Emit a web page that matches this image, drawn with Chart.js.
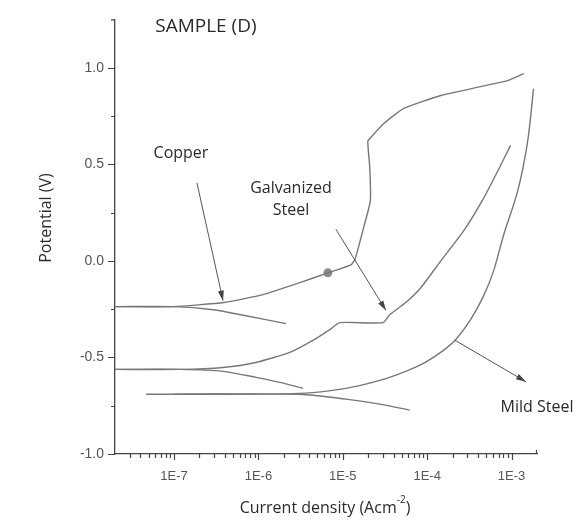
<!DOCTYPE html>
<html>
<head>
<meta charset="utf-8">
<script src="https://cdn.jsdelivr.net/npm/chart.js@4.4.1/dist/chart.umd.min.js"></script>
<style>
  html, body { margin: 0; padding: 0; background: #fff; }
  canvas { display: block; }
</style>
</head>
<body>
<canvas id="tafelChart" width="580" height="526"></canvas>
<script>
// current density (A/cm2) and potential (V)
const copperAnodicI = [2e-8, 9.75e-8, 3.91e-7, 1.13e-6, 3.10e-6, 6.66e-6, 1.25e-5, 1.40e-5, 1.80e-5, 2.12e-5, 2.09e-5, 1.98e-5, 2.20e-5, 3.06e-5, 5.28e-5, 1.45e-4, 4.30e-4, 8.97e-4, 1.39e-3];
const copperAnodicE = [-0.237, -0.237, -0.216, -0.175, -0.113, -0.062, -0.021, 0.010, 0.186, 0.309, 0.479, 0.619, 0.644, 0.711, 0.789, 0.856, 0.902, 0.933, 0.969];
const copperCathodicI = [2e-8, 9.75e-8, 2.90e-7, 7.11e-7, 2.12e-6];
const copperCathodicE = [-0.237, -0.237, -0.253, -0.284, -0.325];

const galvAnodicI = [2e-8, 1.18e-7, 3.80e-7, 9.35e-7, 2.36e-6, 4.42e-6, 7.03e-6, 9.23e-6, 2.98e-5, 3.61e-5, 5.57e-5, 8.4e-5, 1.45e-4, 2.70e-4, 4.67e-4, 6.84e-4, 9.73e-4];
const galvAnodicE = [-0.562, -0.562, -0.552, -0.526, -0.474, -0.412, -0.356, -0.320, -0.320, -0.278, -0.216, -0.139, 0.0, 0.155, 0.325, 0.464, 0.598];
const galvCathodicI = [2e-8, 1.18e-7, 3.80e-7, 9.35e-7, 1.80e-6, 3.37e-6];
const galvCathodicE = [-0.562, -0.562, -0.572, -0.603, -0.629, -0.660];

const mildAnodicI = [4.67e-8, 3.10e-6, 1.09e-5, 2.74e-5, 5.57e-5, 9.61e-5, 1.53e-4, 2.18e-4, 3.27e-4, 4.67e-4, 6.12e-4, 8.05e-4, 1.18e-3, 1.55e-3, 1.82e-3];
const mildAnodicE = [-0.691, -0.686, -0.660, -0.619, -0.572, -0.524, -0.466, -0.407, -0.304, -0.180, -0.052, 0.134, 0.361, 0.619, 0.892];
const mildCathodicI = [1e-7, 3.10e-6, 1.09e-5, 2.74e-5, 6.21e-5];
const mildCathodicE = [-0.690, -0.691, -0.716, -0.742, -0.773];

const markerI = [6.66e-6];
const markerE = [-0.062];

// annotations
const labelText = ['Copper', 'Galvanized', 'Steel', 'Mild Steel'];
const labelI = [1.21e-7, 2.43e-6, 2.43e-6, 2.0e-3];
const labelE = [0.558, 0.373, 0.261, -0.759];
const arrowFromI = [1.87e-7, 8.3e-6, 2.13e-4];
const arrowFromE = [0.404, 0.163, -0.411];
const arrowToI = [3.81e-7, 3.25e-5, 1.48e-3];
const arrowToE = [-0.206, -0.257, -0.626];
const titleText = 'SAMPLE (D)';
const titleI = 2.39e-7;
const titleE = 1.214;

// axes
const xMajorTicks = [1e-7, 1e-6, 1e-5, 1e-4, 1e-3];
const xTickLabels = ['1E-7', '1E-6', '1E-5', '1E-4', '1E-3'];
const yMajorTicks = [-1.0, -0.5, 0.0, 0.5, 1.0];
const yTickLabels = ['-1.0', '-0.5', '0.0', '0.5', '1.0'];
const yMinorTicks = [-0.75, -0.25, 0.25, 0.75];

const xMin = 2e-8, xMax = 2e-3, yMin = -1.0, yMax = 1.25;

function pts(xs, ys) {
    return xs.map((v, i) => ({ x: v, y: ys[i] }));
}

function curve(xs, ys, tension) {
    return {
        data: pts(xs, ys),
        showLine: true,
        borderColor: '#777',
        borderWidth: 1.4,
        pointRadius: 0,
        tension: tension,
        fill: false
    };
}

function drawArrow(ctx, x0, y0, x1, y1) {
    ctx.beginPath();
    ctx.moveTo(x0, y0);
    ctx.lineTo(x1, y1);
    ctx.stroke();
    const a = Math.atan2(y1 - y0, x1 - x0);
    const len = 10, half = 3;
    const c = Math.cos(a), s = Math.sin(a);
    ctx.beginPath();
    ctx.moveTo(x1, y1);
    ctx.lineTo(x1 - len * c + half * s, y1 - len * s - half * c);
    ctx.lineTo(x1 - len * c - half * s, y1 - len * s + half * c);
    ctx.closePath();
    ctx.fill();
}

const annotationPlugin = {
    id: 'annotations',
    afterDraw(chart) {
        const { ctx, chartArea } = chart;
        const x = chart.scales.x, y = chart.scales.y;
        ctx.save();

        // tick marks
        ctx.strokeStyle = '#444';
        ctx.lineWidth = 1.2;
        ctx.beginPath();
        for (let e = -8; e <= -3; e++) {
            for (let m = 1; m <= 9; m++) {
                const v = m * Math.pow(10, e);
                if (v <= xMin * 1.0001 || v >= xMax * 0.9999) continue;
                const px = Math.round(x.getPixelForValue(v)) + 0.5;
                const len = m === 1 ? 6 : 4;
                ctx.moveTo(px, chartArea.bottom);
                ctx.lineTo(px, chartArea.bottom + len);
            }
        }
        yMajorTicks.forEach(v => {
            const py = Math.round(y.getPixelForValue(v)) + 0.5;
            ctx.moveTo(chartArea.left, py);
            ctx.lineTo(chartArea.left - 7, py);
        });
        yMinorTicks.forEach(v => {
            const py = Math.round(y.getPixelForValue(v)) + 0.5;
            ctx.moveTo(chartArea.left, py);
            ctx.lineTo(chartArea.left - 4, py);
        });
        // axis end caps
        ctx.moveTo(chartArea.left, chartArea.top + 0.5);
        ctx.lineTo(chartArea.left - 4, chartArea.top + 0.5);
        ctx.moveTo(chartArea.right - 0.5, chartArea.bottom);
        ctx.lineTo(chartArea.right - 0.5, chartArea.bottom - 4);
        ctx.stroke();

        // arrows
        ctx.strokeStyle = '#555';
        ctx.fillStyle = '#444';
        ctx.lineWidth = 1;
        arrowFromI.forEach((v, i) => {
            drawArrow(ctx,
                x.getPixelForValue(v), y.getPixelForValue(arrowFromE[i]),
                x.getPixelForValue(arrowToI[i]), y.getPixelForValue(arrowToE[i]));
        });

        // labels
        ctx.fillStyle = '#2a2a2a';
        ctx.textAlign = 'center';
        ctx.textBaseline = 'middle';
        ctx.font = '16px "Open Sans", sans-serif';
        labelText.forEach((t, i) => {
            ctx.fillText(t, x.getPixelForValue(labelI[i]), y.getPixelForValue(labelE[i]));
        });
        ctx.font = '19px "Open Sans", sans-serif';
        ctx.fillText(titleText, x.getPixelForValue(titleI), y.getPixelForValue(titleE));

        // axis titles
        ctx.font = '16px "Open Sans", sans-serif';
        ctx.save();
        ctx.translate(46, 218);
        ctx.rotate(-Math.PI / 2);
        ctx.fillText('Potential (V)', 0, 0);
        ctx.restore();

        const main = 'Current density (Acm';
        const sup = '-2';
        const tail = ')';
        ctx.font = '16px "Open Sans", sans-serif';
        const wMain = ctx.measureText(main).width;
        const wTail = ctx.measureText(tail).width;
        ctx.font = '10px "Open Sans", sans-serif';
        const wSup = ctx.measureText(sup).width;
        let px = 325 - (wMain + wSup + wTail) / 2;
        ctx.textAlign = 'left';
        ctx.font = '16px "Open Sans", sans-serif';
        ctx.fillText(main, px, 508);
        px += wMain;
        ctx.font = '10px "Open Sans", sans-serif';
        ctx.fillText(sup, px, 500);
        px += wSup;
        ctx.font = '16px "Open Sans", sans-serif';
        ctx.fillText(tail, px, 508);

        ctx.restore();
    }
};

const ctx = document.getElementById('tafelChart').getContext('2d');
new Chart(ctx, {
    type: 'scatter',
    data: {
        datasets: [
            curve(copperAnodicI, copperAnodicE, 0.15),
            curve(copperCathodicI, copperCathodicE, 0.25),
            curve(galvAnodicI, galvAnodicE, 0.2),
            curve(galvCathodicI, galvCathodicE, 0.25),
            curve(mildAnodicI, mildAnodicE, 0.3),
            curve(mildCathodicI, mildCathodicE, 0.25),
            {
                data: pts(markerI, markerE),
                pointRadius: 4.5,
                pointBackgroundColor: '#8a8a8a',
                pointBorderWidth: 0,
                showLine: false
            }
        ]
    },
    options: {
        responsive: false,
        animation: false,
        layout: { padding: { left: 0, right: 43, top: 15, bottom: 0 } },
        plugins: {
            legend: { display: false },
            tooltip: { enabled: false }
        },
        scales: {
            x: {
                type: 'logarithmic',
                min: xMin,
                max: xMax,
                afterBuildTicks: scale => { scale.ticks = xMajorTicks.map(v => ({ value: v })); },
                afterFit: scale => { scale.height = 72; },
                border: { display: true, color: '#444', width: 1.3 },
                grid: { display: false, drawTicks: false },
                ticks: {
                    autoSkip: false,
                    maxRotation: 0,
                    padding: 15,
                    color: '#555',
                    font: { family: '"Liberation Sans", Arial, sans-serif', size: 13 },
                    callback: (value, index) => xTickLabels[index]
                }
            },
            y: {
                min: yMin,
                max: yMax,
                afterBuildTicks: scale => { scale.ticks = yMajorTicks.map(v => ({ value: v })); },
                afterFit: scale => { scale.width = 115; },
                border: { display: true, color: '#444', width: 1.3 },
                grid: { display: false, drawTicks: false },
                ticks: {
                    padding: 11,
                    color: '#555',
                    font: { family: '"Liberation Sans", Arial, sans-serif', size: 14 },
                    callback: (value, index) => yTickLabels[index]
                }
            }
        }
    },
    plugins: [annotationPlugin]
});
</script>
</body>
</html>
